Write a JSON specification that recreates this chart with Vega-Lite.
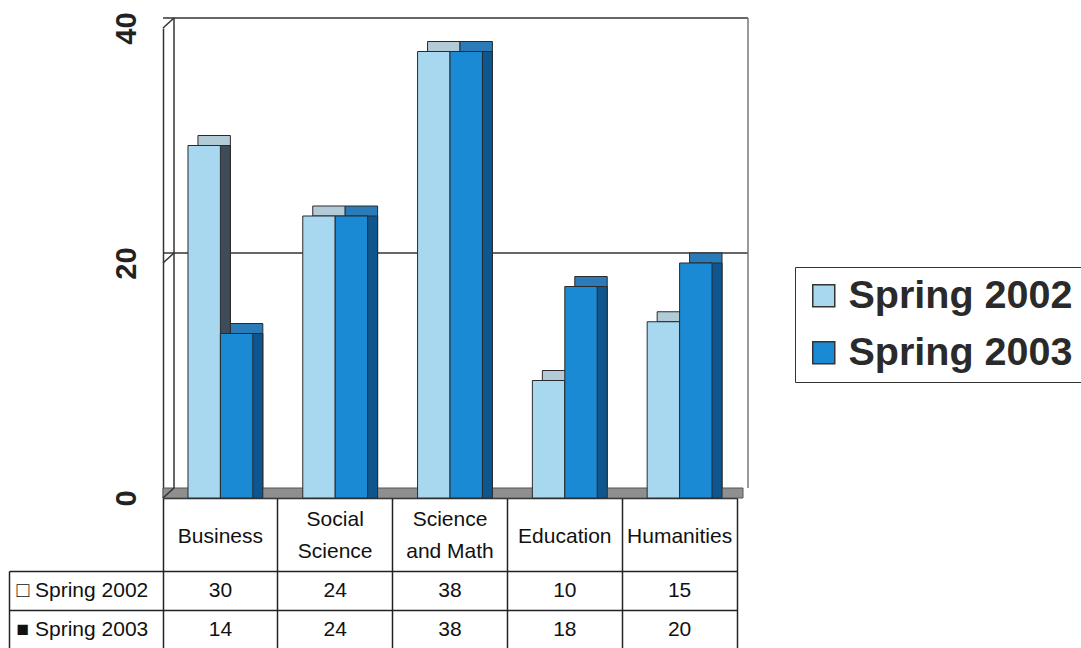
{
  "$schema": "https://vega.github.io/schema/vega-lite/v6.json",
  "padding": {"left": 7, "top": 11, "right": 0, "bottom": 0},
  "background": "white",
  "spacing": 73,
  "bounds": "flush",
  "config": {"font": "Liberation Sans", "view": {"stroke": null}},
  "datasets": {
    "enroll": [
      {"category": "Business", "series": "Spring 2002", "value": 30},
      {"category": "Social Science", "series": "Spring 2002", "value": 24},
      {"category": "Science and Math", "series": "Spring 2002", "value": 38},
      {"category": "Education", "series": "Spring 2002", "value": 10},
      {"category": "Humanities", "series": "Spring 2002", "value": 15},
      {"category": "Business", "series": "Spring 2003", "value": 14},
      {"category": "Social Science", "series": "Spring 2003", "value": 24},
      {"category": "Science and Math", "series": "Spring 2003", "value": 38},
      {"category": "Education", "series": "Spring 2003", "value": 18},
      {"category": "Humanities", "series": "Spring 2003", "value": 20}
    ],
    "levels": [{"level": 0}, {"level": 20}, {"level": 40}]
  },
  "vconcat": [
    {
      "width": 574,
      "height": 470,
      "layer": [
        {
          "data": {"name": "levels"},
          "transform": [{"filter": "datum.level == 0"}],
          "mark": {"type": "rect", "fill": "#8f8f8f", "stroke": "#555555", "strokeWidth": 1, "xOffset": 6, "x2Offset": 6, "y2Offset": -10},
          "encoding": {
            "y": {"field": "level", "type": "quantitative", "scale": {"domain": [0, 40], "nice": false}},
            "y2": {"field": "level"}
          }
        },
        {
          "data": {"name": "levels"},
          "transform": [{"filter": "datum.level > 0"}],
          "mark": {"type": "rule", "color": "#333333", "strokeWidth": 1.5, "xOffset": 11, "x2Offset": 11, "yOffset": -10},
          "encoding": {
            "y": {"field": "level", "type": "quantitative"}
          }
        },
        {
          "data": {"name": "levels"},
          "transform": [{"filter": "datum.level == 0"}],
          "mark": {"type": "rule", "color": "#333333", "strokeWidth": 1.5, "xOffset": 11, "yOffset": -10, "y2Offset": -10},
          "encoding": {
            "x": {"datum": "Business", "type": "nominal", "bandPosition": 0},
            "y": {"field": "level", "type": "quantitative"},
            "y2": {"datum": 40}
          }
        },
        {
          "data": {"name": "levels"},
          "transform": [{"filter": "datum.level == 0"}],
          "mark": {"type": "rule", "color": "#777777", "strokeWidth": 1.5, "xOffset": 11, "yOffset": -10, "y2Offset": -10},
          "encoding": {
            "x": {"datum": "Humanities", "type": "nominal", "bandPosition": 1},
            "y": {"field": "level", "type": "quantitative"},
            "y2": {"datum": 40}
          }
        },
        {
          "data": {"name": "levels"},
          "mark": {"type": "rule", "color": "#333333", "strokeWidth": 1.5, "x2Offset": 11, "y2Offset": -10},
          "encoding": {
            "x": {"datum": "Business", "type": "nominal", "bandPosition": 0},
            "x2": {"datum": "Business", "bandPosition": 0},
            "y": {"field": "level", "type": "quantitative"},
            "y2": {"field": "level"}
          }
        },
        {
          "data": {"name": "enroll"},
          "mark": {"type": "bar", "yOffset": -10, "y2Offset": -10, "stroke": "#2a2a2a", "strokeWidth": 1},
          "encoding": {
            "x": {"field": "category", "type": "nominal"},
            "xOffset": {"field": "series", "type": "nominal", "scale": {"paddingInner": 0, "paddingOuter": 0.77, "align": 0.7}},
            "y": {"field": "value", "type": "quantitative"},
            "fill": {"condition": {"test": "datum.series === 'Spring 2002'", "value": "#b3cbd6"}, "value": "#2a7bb8"}
          }
        },
        {
          "data": {"name": "enroll"},
          "mark": {"type": "bar", "stroke": "#2a2a2a", "strokeWidth": 1},
          "encoding": {
            "x": {"field": "category", "type": "nominal"},
            "xOffset": {"field": "series", "type": "nominal", "scale": {"paddingInner": 0, "paddingOuter": 0.77, "align": 0.7}},
            "y": {"field": "value", "type": "quantitative"},
            "fill": {"condition": {"test": "datum.series === 'Spring 2002'", "value": "#3f4b58"}, "value": "#0e5690"}
          }
        },
        {
          "data": {"name": "enroll"},
          "mark": {"type": "bar", "stroke": "#2a2a2a", "strokeWidth": 1},
          "encoding": {
            "x": {
              "field": "category",
              "type": "nominal",
              "scale": {"domain": ["Business", "Social Science", "Science and Math", "Education", "Humanities"], "paddingInner": 0, "paddingOuter": 0},
              "axis": {
                "title": null,
                "orient": "bottom",
                "bandPosition": 1,
                "tickExtra": true,
                "tickSize": 73,
                "tickColor": "#222222",
                "tickWidth": 1.5,
                "domainColor": "#222222",
                "domainWidth": 1.5,
                "labelPadding": -46,
                "labelBaseline": {"condition": {"test": "datum.value == 'Social Science' || datum.value == 'Science and Math'", "value": "alphabetic"}, "value": "top"},
                "labelAlign": "center",
                "labelAngle": 0,
                "labelFontSize": 21,
                "labelColor": "#111111",
                "labelLineHeight": 32,
                "labelOverlap": false,
                "labelExpr": "datum.value == 'Social Science' ? ['Social', 'Science'] : datum.value == 'Science and Math' ? ['Science', 'and Math'] : datum.value",
                "grid": false
              }
            },
            "xOffset": {"field": "series", "type": "nominal", "scale": {"paddingInner": 0, "paddingOuter": 0.77, "align": 0.5}},
            "y": {
              "field": "value",
              "type": "quantitative",
              "axis": {
                "title": null,
                "values": [0, 20, 40],
                "ticks": false,
                "grid": false,
                "labelAngle": -90,
                "labelAlign": "center",
                "labelBaseline": "alphabetic",
                "labelPadding": 28,
                "labelFontSize": 29,
                "labelFontWeight": "bold",
                "labelColor": "#222222",
                "labelFlush": false,
                "domainColor": "#333333",
                "domainWidth": 1.5
              }
            },
            "color": {
              "field": "series",
              "type": "nominal",
              "scale": {"range": ["#a8d8f0", "#1a8ad4"]},
              "legend": {
                "orient": "none",
                "legendX": 632,
                "legendY": 239,
                "title": null,
                "symbolType": "square",
                "symbolSize": 484,
                "symbolStrokeColor": "#333333",
                "symbolStrokeWidth": 1.5,
                "labelFontSize": 39.5,
                "labelFontWeight": "bold",
                "labelColor": "#2a2a2a",
                "labelOffset": 5,
                "labelLimit": 400,
                "rowPadding": 16,
                "padding": 9,
                "strokeColor": "#333333",
                "fillColor": "white"
              }
            }
          }
        }
      ],
      "resolve": {"scale": {"xOffset": "independent"}}
    },
    {
      "width": 574,
      "height": 78,
      "view": {"stroke": "#222222"},
      "data": {"name": "enroll"},
      "layer": [
        {
          "mark": {"type": "text", "fontSize": 21, "color": "#111111"},
          "encoding": {
            "x": {
              "field": "category",
              "type": "nominal",
              "scale": {"type": "band", "domain": ["Business", "Social Science", "Science and Math", "Education", "Humanities"], "paddingInner": 0, "paddingOuter": 0},
              "axis": {"title": null, "labels": false, "ticks": false, "domain": false, "grid": true, "bandPosition": 1, "gridColor": "#222222", "gridWidth": 1.5, "gridOpacity": 1}
            },
            "y": {
              "field": "series",
              "type": "nominal",
              "scale": {"type": "band", "paddingInner": 0, "paddingOuter": 0},
              "axis": {
                "title": null,
                "labelExpr": "datum.value == 'Spring 2002' ? '□ Spring 2002' : '■ Spring 2003'",
                "labelAlign": "left",
                "labelBaseline": "middle",
                "labelPadding": -7,
                "labelFontSize": 21,
                "labelColor": "#111111",
                "tickSize": 154,
                "bandPosition": 0,
                "tickColor": "#222222",
                "tickWidth": 1.5,
                "domainColor": "#222222",
                "domainWidth": 1.5,
                "grid": true,
                "gridColor": "#222222",
                "gridWidth": 1.5,
                "gridOpacity": 1
              }
            },
            "text": {"field": "value", "type": "quantitative"}
          }
        },
        {
          "mark": {"type": "text", "opacity": 0},
          "encoding": {
            "y": {
              "field": "series",
              "type": "nominal",
              "axis": {"orient": "left", "offset": 154, "labels": false, "ticks": false, "grid": false, "title": null, "domain": true, "domainColor": "#222222", "domainWidth": 1.5}
            },
            "text": {"value": ""}
          }
        }
      ],
      "resolve": {"axis": {"y": "independent"}}
    }
  ]
}
